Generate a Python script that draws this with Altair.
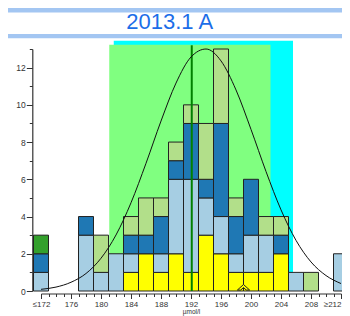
import altair as alt
import pandas as pd

# ---- data ----
centers = [172, 178, 180, 182, 184, 186, 188, 190, 192, 194, 196, 198, 200, 202, 204, 206, 208, 212]
yellow      = [0, 0, 0, 0, 1, 2, 1, 2, 1, 3, 2, 1, 1, 1, 2, 0, 0, 0]
light_blue  = [1, 3, 1, 2, 1, 0, 1, 4, 5, 2, 2, 1, 2, 2, 0, 1, 0, 2]
dark_blue   = [1, 1, 0, 0, 1, 1, 2, 1, 3, 1, 5, 2, 3, 0, 1, 0, 0, 0]
light_green = [0, 0, 2, 0, 1, 2, 1, 1, 1, 3, 4, 1, 0, 1, 1, 0, 1, 0]
dark_green  = [1, 0, 0, 0, 0, 0, 0, 0, 0, 0, 0, 0, 0, 0, 0, 0, 0, 0]

categories = ["yellow", "light_blue", "dark_blue", "light_green", "dark_green"]
cat_colors = ["#ffff00", "#a6cee3", "#1f78b4", "#b2df8a", "#33a02c"]

curve_x = [172, 174, 176, 178, 180, 182, 184, 186, 188, 190, 192, 194, 196, 198, 200, 202, 204, 206, 208, 210, 212]
curve_y = [0.09, 0.21, 0.47, 0.94, 1.76, 3.01, 4.74, 6.86, 9.13, 11.17, 12.57, 13.0, 12.36, 10.8, 8.68, 6.42, 4.36, 2.72, 1.56, 0.83, 0.40]

mean_value = 192.1
green_band = [181.1, 202.6]
cyan_band = [181.7, 205.6]
marker_value = 199.0
title_text = "2013.1 A"
x_title = "µmol/l"

# ---- build tables ----
series = [yellow, light_blue, dark_blue, light_green, dark_green]
rows = []
for i, c in enumerate(centers):
    base = 0
    for k, cat in enumerate(categories):
        n = series[k][i]
        if n > 0:
            rows.append({"x0": c - 1, "x1": c + 1, "y0": base, "y1": base + n, "cat": cat, "ord": k})
            base += n
bars_df = pd.DataFrame(rows)
curve_df = pd.DataFrame({"x": curve_x, "y": curve_y})
one = pd.DataFrame({"a": [0]})

W, H = 300, 242
xs = alt.Scale(domain=[172, 212], nice=False, zero=False)
ys = alt.Scale(domain=[0, 13], nice=False, zero=True)

xaxis = alt.Axis(
    values=list(range(172, 213)),
    labelExpr="datum.value == 172 ? '≤172' : datum.value == 212 ? '≥212' : (datum.value % 4 == 0 ? datum.label : '')",
    tickSize={"condition": {"test": "datum.value % 4 == 0", "value": 5}, "value": 3},
    labelAlign={"condition": {"test": "datum.value == 212", "value": "right"}, "value": "center"},
    offset=2.5, grid=False, labelFontSize=8, labelPadding=2, labelOverlap=False,
    labelFlush=False, labelBound=False, titleFontSize=6.5, titlePadding=0,
    titleFontWeight="normal", titleColor="#333",
)
yaxis = alt.Axis(
    values=list(range(0, 14)),
    labelExpr="datum.value % 2 == 0 ? datum.label : ''",
    tickSize={"condition": {"test": "datum.value % 2 == 0", "value": 6}, "value": 3},
    offset=8.7, grid=False, labelFontSize=8.5, labelPadding=1, labelOverlap=False,
    labelFlush=False, labelBound=False, title=None,
)

def X(f):
    return alt.X(f, type="quantitative", scale=xs, axis=xaxis, title=x_title)

def Y(f):
    return alt.Y(f, type="quantitative", scale=ys, axis=yaxis, title=None)

cyan = alt.Chart(pd.DataFrame({"a": [cyan_band[0]], "b": [cyan_band[1]], "t": [13.44], "z": [0]})).mark_rect(
    color="#00ffff").encode(x=X("a"), x2="b", y=Y("z"), y2="t")
green = alt.Chart(pd.DataFrame({"a": [green_band[0]], "b": [green_band[1]], "t": [13.23], "z": [0]})).mark_rect(
    color="#80ff80").encode(x=X("a"), x2="b", y=Y("z"), y2="t")

bars = alt.Chart(bars_df).mark_rect(stroke="#222222", strokeWidth=1).encode(
    x=X("x0"), x2="x1", y=Y("y0"), y2="y1",
    color=alt.Color("cat:N", scale=alt.Scale(domain=categories, range=cat_colors), legend=None),
)

mean_line = alt.Chart(pd.DataFrame({"m": [mean_value], "z": [0], "t": [13.2]})).mark_rule(
    color="#008000", strokeWidth=2).encode(x=X("m"), y=Y("z"), y2="t")

curve = alt.Chart(curve_df).mark_line(color="#111111", strokeWidth=1, interpolate="monotone").encode(
    x=X("x"), y=Y("y"))

marker = alt.Chart(pd.DataFrame({"m": [marker_value], "v": [0.2]})).mark_point(
    shape="M-1,0.45 L0,-0.45 L1,0.45 L0.45,0.45 L0,0.05 L-0.45,0.45 Z",
    filled=True, fill="#ffff00", stroke="#222222", strokeWidth=1, size=150, opacity=1,
).encode(x=X("m"), y=Y("v"))

band_top = alt.Chart(one).mark_rule(color="#a3c6f2", strokeWidth=4.5).encode(
    x=alt.value(-33.7), x2=alt.value(305), y=alt.value(-38.7))
band_bot = alt.Chart(one).mark_rule(color="#a3c6f2", strokeWidth=4.3).encode(
    x=alt.value(-33.7), x2=alt.value(305), y=alt.value(-12.9))
title = alt.Chart(one).mark_text(
    text=title_text, fontSize=22, color="#1c6ee8", font="Liberation Sans", baseline="middle", align="center"
).encode(x=alt.value(128.7), y=alt.value(-27.5))

chart = alt.layer(cyan, green, bars, mean_line, curve, marker, band_top, band_bot, title).properties(
    width=W, height=H,
    autosize=alt.AutoSizeParams(type="none"),
    padding={"left": 33, "top": 41, "right": 1, "bottom": 26},
).configure_view(stroke=None).configure_axis(
    labelFont="Liberation Sans", titleFont="Liberation Sans", labelColor="#333333",
    domainColor="#333333", tickColor="#333333", domainWidth=1.2, tickWidth=1,
)

chart.save("out.html", embed_options={"renderer": "svg", "actions": False})
